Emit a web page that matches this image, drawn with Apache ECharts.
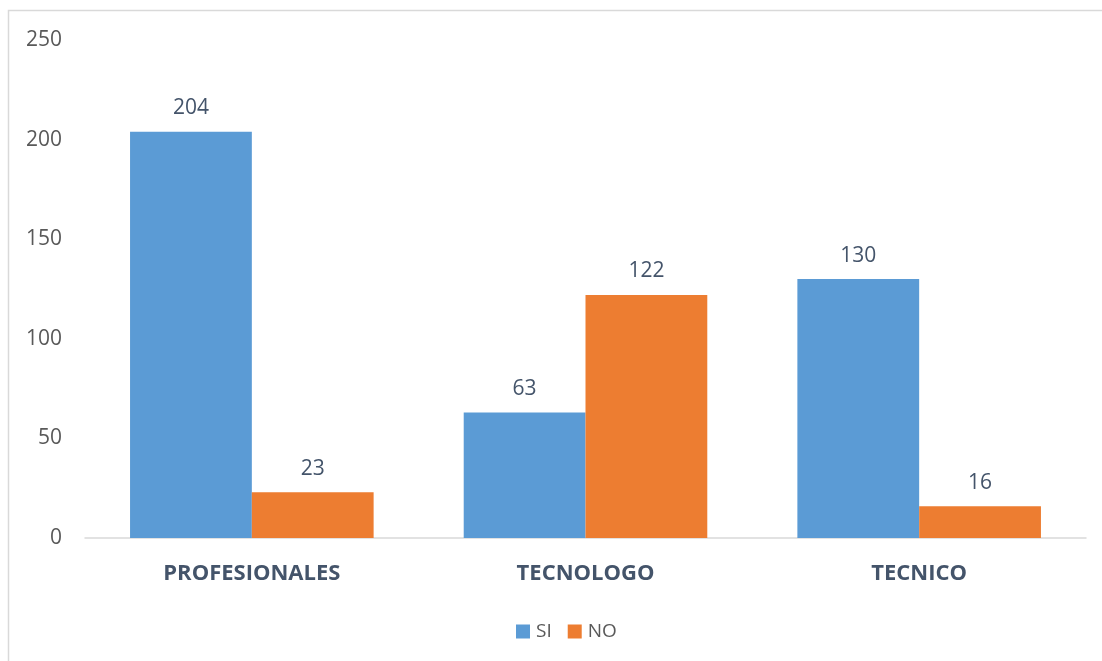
<!DOCTYPE html>
<html>
<head>
<meta charset="utf-8">
<script src="https://cdn.jsdelivr.net/npm/echarts@6/dist/echarts.min.js"></script>
<style>
html,body{margin:0;padding:0;background:#fff;}
#chart{width:1102px;height:661px;}
</style>
</head>
<body>
<div id="chart"></div>
<script>
var categories = ['PROFESIONALES', 'TECNOLOGO', 'TECNICO'];
var seriesNames = ['SI', 'NO'];
var siValues = [204, 63, 130];
var noValues = [23, 122, 16];
var yTicks = {min: 0, max: 250, interval: 50};

var chart = echarts.init(document.getElementById('chart'), null, {renderer: 'canvas'});
var font = '"Open Sans", "Noto Sans", sans-serif';
var option = {
  animation: false,
  backgroundColor: '#ffffff',
  graphic: [{
    type: 'rect',
    shape: {x: 8.5, y: 10.5, width: 1200, height: 1000},
    style: {fill: 'none', stroke: '#d9d9d9', lineWidth: 1.5},
    silent: true
  }],
  grid: {left: 85, right: 16, top: 40, bottom: 123, containLabel: false},
  legend: {
    data: seriesNames,
    top: 617,
    left: 511,
    itemWidth: 14,
    itemHeight: 14,
    itemGap: 16,
    icon: 'rect',
    textStyle: {fontFamily: font, fontSize: 19, color: '#595959', padding: [0, 0, 0, 1]}
  },
  xAxis: {
    type: 'category',
    data: categories,
    axisLine: {show: true, lineStyle: {color: '#d9d9d9', width: 1.5}},
    axisTick: {show: false},
    axisLabel: {fontFamily: font, fontSize: 22, fontWeight: 'bold', color: '#44546A', margin: 25}
  },
  yAxis: {
    type: 'value',
    min: yTicks.min,
    max: yTicks.max,
    interval: yTicks.interval,
    axisLine: {show: false},
    axisTick: {show: false},
    splitLine: {show: false},
    axisLabel: {fontFamily: font, fontSize: 21, color: '#595959', margin: 23}
  },
  series: [
    {
      name: seriesNames[0], type: 'bar', data: siValues,
      barGap: '0%', barCategoryGap: '27%',
      itemStyle: {color: '#5B9BD5'},
      label: {show: true, position: 'top', distance: 13, fontFamily: font, fontSize: 21, color: '#44546A'}
    },
    {
      name: seriesNames[1], type: 'bar', data: noValues,
      barGap: '0%', barCategoryGap: '27%',
      itemStyle: {color: '#ED7D31'},
      label: {show: true, position: 'top', distance: 13, fontFamily: font, fontSize: 21, color: '#44546A'}
    }
  ]
};
chart.setOption(option);
</script>
</body>
</html>
